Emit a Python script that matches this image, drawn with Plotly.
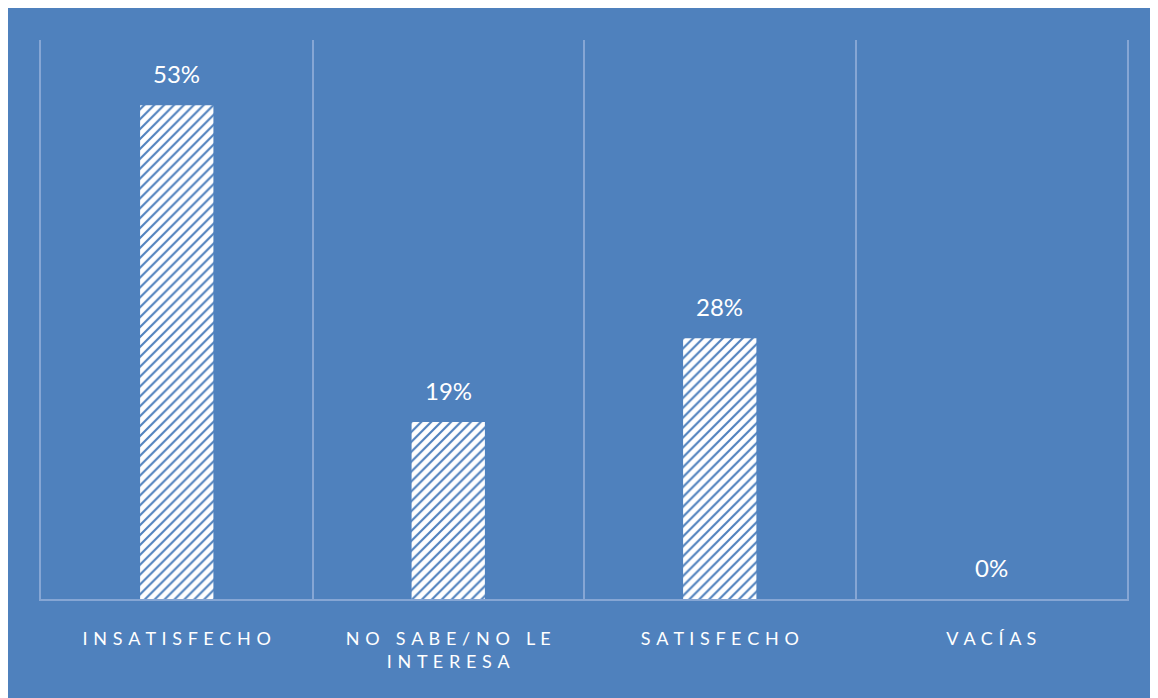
import plotly.graph_objects as go

# Grafico de satisfaccion (barras con trama diagonal)

categorias = ['INSATISFECHO', 'NO SABE/NO LE INTERESA', 'SATISFECHO', 'VACÍAS']
etiquetas = ['INSATISFECHO', 'NO SABE/NO LE<br>INTERESA', 'SATISFECHO', 'VACÍAS']
porcentajes = [0.53, 0.19, 0.28, 0.0]
textos = ['53%', '19%', '28%', '0%']

FONDO = '#4F81BD'
REJILLA = '#86A6D4'


def espaciar(texto):
    # simula el espaciado entre letras del original
    lineas = texto.split('<br>')
    return '<br>'.join(' \u200a'.join(list(l)) for l in lineas)


fig = go.Figure()
fig.add_trace(go.Bar(
    x=categorias, y=porcentajes, width=0.27,
    marker=dict(
        color='white',
        line=dict(width=0),
        pattern=dict(shape='/', bgcolor='white', fgcolor=FONDO,
                     size=7, solidity=0.3, fillmode='replace'),
    ),
    hoverinfo='skip',
))

for cat, val, txt in zip(categorias, porcentajes, textos):
    fig.add_annotation(x=cat, y=val, text=txt, showarrow=False,
                       yanchor='bottom', yshift=15,
                       font=dict(size=24, color='white', family='Lato'))

# la pagina ya tiene 8px de margen, se descuentan aqui
fig.update_layout(
    width=1150, height=690,
    margin=dict(l=33, r=31, t=32, b=99),
    paper_bgcolor=FONDO,
    plot_bgcolor=FONDO,
    showlegend=False,
    xaxis=dict(
        tickmode='array', tickvals=categorias,
        ticktext=[espaciar(e) for e in etiquetas],
        tickson='boundaries', showgrid=True, gridcolor=REJILLA, gridwidth=2,
        showline=True, linecolor=REJILLA, linewidth=2,
        ticks='', ticklabelstandoff=22,
        tickfont=dict(size=18, color='white', family='Lato'),
    ),
    yaxis=dict(
        range=[0, 0.6], showgrid=False, zeroline=False,
        showticklabels=False, showline=True, mirror=True,
        linecolor=REJILLA, linewidth=2,
    ),
)

fig.write_html('out.html')
